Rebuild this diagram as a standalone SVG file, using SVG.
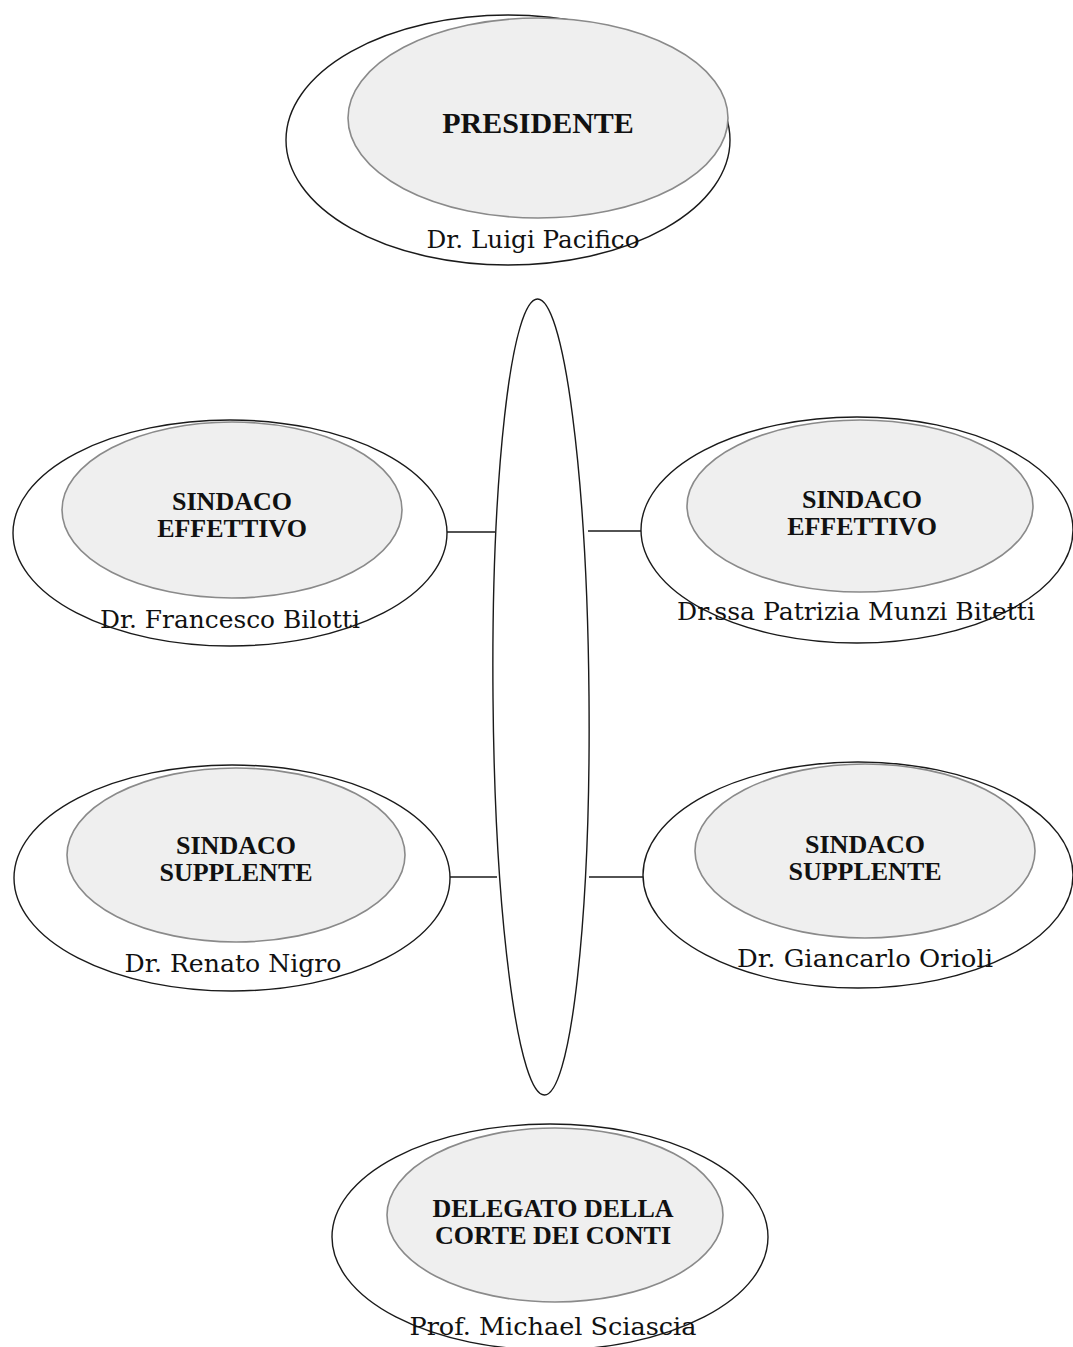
<svg xmlns="http://www.w3.org/2000/svg" width="1073" height="1347" viewBox="0 0 1073 1347">
<style>
.outer{fill:#ffffff;stroke:#1a1a1a;stroke-width:1.4}
.inner{fill:#efefef;stroke:#8a8a8a;stroke-width:1.6}
.role{font-family:"Liberation Serif","Times New Roman",serif;font-weight:bold;font-size:26px;fill:#111;text-anchor:middle}
.name{font-family:"DejaVu Serif","Liberation Serif",serif;font-size:24px;fill:#111;text-anchor:middle}
.conn{stroke:#1a1a1a;stroke-width:1.4;fill:none}
</style>
<rect width="1073" height="1347" fill="#ffffff"/>
<g id="connectors">
<ellipse class="conn" cx="541" cy="697" rx="48" ry="398" transform="rotate(-0.5 541 697)"/>
<line class="conn" x1="447" y1="532" x2="495" y2="532"/>
<line class="conn" x1="588" y1="531" x2="641" y2="531"/>
<line class="conn" x1="450" y1="877" x2="497" y2="877"/>
<line class="conn" x1="589" y1="877" x2="643" y2="877"/>
</g>
<g id="presidente">
<ellipse class="outer" cx="508" cy="140" rx="222" ry="125"/>
<ellipse class="inner" cx="538" cy="118" rx="190" ry="100"/>
<text class="role" x="538" y="133" style="font-size:30px">PRESIDENTE</text>
<text class="name" x="533" y="248" textLength="213" lengthAdjust="spacingAndGlyphs">Dr. Luigi Pacifico</text>
</g>
<g id="effettivo-bilotti">
<ellipse class="outer" cx="230" cy="533" rx="217" ry="113"/>
<ellipse class="inner" cx="232" cy="510" rx="170" ry="88"/>
<text class="role" x="232" y="510">SINDACO</text>
<text class="role" x="232" y="537">EFFETTIVO</text>
<text class="name" x="230" y="628" textLength="260" lengthAdjust="spacingAndGlyphs">Dr. Francesco Bilotti</text>
</g>
<g id="effettivo-munzi">
<ellipse class="outer" cx="857" cy="530" rx="216" ry="113"/>
<ellipse class="inner" cx="860" cy="506" rx="173" ry="86"/>
<text class="role" x="862" y="508">SINDACO</text>
<text class="role" x="862" y="535">EFFETTIVO</text>
<text class="name" x="856" y="620" textLength="358" lengthAdjust="spacingAndGlyphs">Dr.ssa Patrizia Munzi Bitetti</text>
</g>
<g id="supplente-nigro">
<ellipse class="outer" cx="232" cy="878" rx="218" ry="113"/>
<ellipse class="inner" cx="236" cy="855" rx="169" ry="87"/>
<text class="role" x="236" y="854">SINDACO</text>
<text class="role" x="236" y="881">SUPPLENTE</text>
<text class="name" x="233" y="972" textLength="217" lengthAdjust="spacingAndGlyphs">Dr. Renato Nigro</text>
</g>
<g id="supplente-orioli">
<ellipse class="outer" cx="858" cy="875" rx="215" ry="113"/>
<ellipse class="inner" cx="865" cy="851" rx="170" ry="87"/>
<text class="role" x="865" y="853">SINDACO</text>
<text class="role" x="865" y="880">SUPPLENTE</text>
<text class="name" x="865" y="967" textLength="256" lengthAdjust="spacingAndGlyphs">Dr. Giancarlo Orioli</text>
</g>
<g id="delegato">
<ellipse class="outer" cx="550" cy="1237" rx="218" ry="113"/>
<ellipse class="inner" cx="555" cy="1215" rx="168" ry="87"/>
<text class="role" x="553" y="1217">DELEGATO DELLA</text>
<text class="role" x="553" y="1244">CORTE DEI CONTI</text>
<text class="name" x="553" y="1335" textLength="287" lengthAdjust="spacingAndGlyphs">Prof. Michael Sciascia</text>
</g>
</svg>
